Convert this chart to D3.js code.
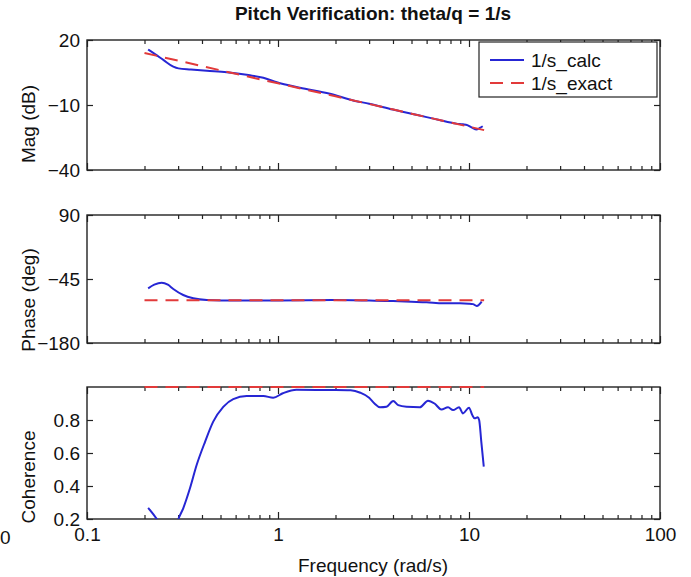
<!DOCTYPE html>
<html>
<head>
<meta charset="utf-8">
<script src="https://cdn.jsdelivr.net/npm/d3@7"></script>
<style>
  html, body { margin: 0; padding: 0; background: #fff; }
  svg { display: block; }
  text { font-family: "Liberation Sans", Arial, Helvetica, sans-serif; fill: #111; }
</style>
</head>
<body>
<svg id="chart" width="691" height="577"></svg>
<script>
// ---- Data ----
const seriesNames = ["1/s_calc", "1/s_exact"];

// Magnitude (dB)
const magCalcFreq = [0.209, 0.227, 0.251, 0.283, 0.301, 0.35, 0.424, 0.539, 0.7, 0.838, 0.985, 1.3, 1.87, 2.5, 3, 4, 5, 6, 7, 8, 8.6, 9.3, 9.8, 10.3, 11.0, 11.4, 11.8];
const magCalc     = [15.6, 13.5, 10.8, 7.7, 6.9, 6.4, 5.8, 5.1, 3.8, 2.6, 0.5, -2.0, -4.8, -8.0, -9.4, -12.1, -14.0, -15.6, -16.9, -18.1, -18.6, -18.9, -19.3, -20.3, -21.3, -20.6, -19.8];
const magExactFreq = [0.2, 0.5, 1, 2, 5, 10, 12];
const magExact     = [14.0, 6.0, 0.0, -6.0, -14.0, -20.0, -21.6];

// Phase (deg)
const phaseCalcFreq = [0.209, 0.225, 0.246, 0.265, 0.283, 0.319, 0.36, 0.424, 0.6, 1, 2, 3, 4, 5, 6, 7.33, 8.97, 10, 10.5, 10.97, 11.3, 11.65];
const phaseCalc     = [-64.6, -57, -52.8, -57, -66, -78.8, -85.7, -89.3, -90.5, -90.5, -89.5, -90.5, -91.5, -93, -94.2, -96.3, -96.3, -97, -98, -102, -99, -92.9];
const phaseExactFreq = [0.2, 12];
const phaseExact     = [-90, -90];

// Coherence
const cohCalcFreq = [0.209, 0.232, 0.25, 0.27, 0.29, 0.301, 0.319, 0.346, 0.375, 0.415, 0.458, 0.517, 0.583, 0.685, 0.838, 0.944, 1.06, 1.25, 1.87, 2.4, 2.7, 3.0, 3.2, 3.42, 3.7, 4.01, 4.26, 4.71, 5.53, 6.1, 6.6, 7.17, 7.77, 8.25, 8.87, 9.3, 10.0, 10.4, 10.7, 11.1, 11.3, 11.6, 11.95];
const cohCalc     = [0.268, 0.2, 0.14, 0.11, 0.14, 0.2, 0.265, 0.386, 0.527, 0.668, 0.79, 0.88, 0.927, 0.945, 0.945, 0.935, 0.962, 0.984, 0.982, 0.98, 0.965, 0.935, 0.9, 0.877, 0.88, 0.915, 0.89, 0.88, 0.877, 0.917, 0.9, 0.864, 0.877, 0.86, 0.877, 0.84, 0.875, 0.83, 0.81, 0.816, 0.8, 0.668, 0.517];
const cohExactFreq = [0.2, 12];
const cohExact     = [1.0, 1.0];

// Axis ticks
const xMajorTicks = [0.1, 1, 10, 100];
const xTickLabels = ["0.1", "1", "10", "100"];
const magTicks = [-40, -10, 20];
const phaseTicks = [-180, -45, 90];
const cohTicks = [0.2, 0.4, 0.6, 0.8];

// ---- Layout ----
const svg = d3.select("#chart");
const left = 87, right = 660;
const blue = "#2626d4", red = "#e23a3a";
const frameColor = "#222";

const x = d3.scaleLog().domain([0.1, 100]).range([left, right]);

const xMinorTicks = [];
[0.1, 1, 10].forEach(d => { for (let k = 2; k <= 9; k++) xMinorTicks.push(+(d * k).toPrecision(3)); });

const panels = [
  { top: 40,  bottom: 170, domain: [-40, 20],  ticks: magTicks,   fmt: d => d3.format("d")(d), label: "Mag (dB)",    labelX: 28, labelY: 124,
    calc: [magCalcFreq, magCalc], exact: [magExactFreq, magExact], xLabels: false },
  { top: 215, bottom: 343, domain: [-180, 90], ticks: phaseTicks, fmt: d => d3.format("d")(d), label: "Phase (deg)", labelX: 28, labelY: 300,
    calc: [phaseCalcFreq, phaseCalc], exact: [phaseExactFreq, phaseExact], xLabels: false },
  { top: 387, bottom: 519, domain: [0.2, 1.0], ticks: cohTicks,   fmt: d => d3.format(".1f")(d), label: "Coherence", labelX: 28, labelY: 477,
    calc: [cohCalcFreq, cohCalc], exact: [cohExactFreq, cohExact], xLabels: true }
];

const fontSize = 19;

panels.forEach((p, i) => {
  const y = d3.scaleLinear().domain(p.domain).range([p.bottom, p.top]);
  const g = svg.append("g");

  const clipId = "clip" + i;
  svg.append("defs").append("clipPath").attr("id", clipId)
    .append("rect").attr("x", left).attr("y", p.top).attr("width", right - left).attr("height", p.bottom - p.top);

  // frame
  g.append("rect")
    .attr("x", left).attr("y", p.top)
    .attr("width", right - left).attr("height", p.bottom - p.top)
    .attr("fill", "none").attr("stroke", frameColor).attr("stroke-width", 1.4);

  const styleAxis = sel => {
    sel.select(".domain").remove();
    sel.selectAll(".tick line").attr("stroke", frameColor).attr("stroke-width", 1.2);
    sel.selectAll(".tick text").attr("font-size", fontSize).attr("fill", "#111")
      .attr("font-family", "Liberation Sans, Arial, sans-serif");
  };

  // bottom ticks (major and minor, pointing inward)
  const bMajor = d3.axisBottom(x).tickValues(xMajorTicks).tickSizeInner(-7).tickSizeOuter(0).tickPadding(9)
    .tickFormat((d, k) => p.xLabels ? xTickLabels[k] : "");
  g.append("g").attr("transform", `translate(0,${p.bottom})`).call(bMajor).call(styleAxis);
  const bMinor = d3.axisBottom(x).tickValues(xMinorTicks).tickSizeInner(-4).tickSizeOuter(0).tickFormat("");
  g.append("g").attr("transform", `translate(0,${p.bottom})`).call(bMinor).call(styleAxis);

  // top ticks
  const tMajor = d3.axisTop(x).tickValues(xMajorTicks).tickSizeInner(-7).tickSizeOuter(0).tickFormat("");
  g.append("g").attr("transform", `translate(0,${p.top})`).call(tMajor).call(styleAxis);
  const tMinor = d3.axisTop(x).tickValues(xMinorTicks).tickSizeInner(-4).tickSizeOuter(0).tickFormat("");
  g.append("g").attr("transform", `translate(0,${p.top})`).call(tMinor).call(styleAxis);

  // left and right ticks
  const lAxis = d3.axisLeft(y).tickValues(p.ticks).tickSizeInner(-6).tickSizeOuter(0).tickPadding(7)
    .tickFormat(p.fmt);
  g.append("g").attr("transform", `translate(${left},0)`).call(lAxis).call(styleAxis);
  const rAxis = d3.axisRight(y).tickValues(p.ticks).tickSizeInner(-6).tickSizeOuter(0).tickFormat("");
  g.append("g").attr("transform", `translate(${right},0)`).call(rAxis).call(styleAxis);

  // y-axis title
  svg.append("text")
    .attr("transform", `translate(${p.labelX},${p.labelY}) rotate(-90)`)
    .attr("text-anchor", "middle").attr("dominant-baseline", "central")
    .attr("font-size", fontSize)
    .text(p.label);

  const line = d3.line().x(d => x(d[0])).y(d => y(d[1])).curve(d3.curveMonotoneX);

  const calcPts = p.calc[0].map((f, k) => [f, p.calc[1][k]]);
  const exactPts = p.exact[0].map((f, k) => [f, p.exact[1][k]]);

  const plot = svg.append("g").attr("clip-path", i === 2 ? `url(#${clipId})` : null);
  plot.append("path").datum(calcPts)
    .attr("d", line).attr("fill", "none").attr("stroke", blue).attr("stroke-width", 2);

  // dashed exact line drawn on top (not clipped so it can sit on the frame edge)
  svg.append("path").datum(exactPts)
    .attr("d", d3.line().x(d => x(d[0])).y(d => y(d[1])))
    .attr("fill", "none").attr("stroke", red).attr("stroke-width", 2)
    .attr("stroke-dasharray", "13,8");
});

// x-axis title
svg.append("text")
  .attr("x", (left + right) / 2 - 0.5).attr("y", 565)
  .attr("text-anchor", "middle").attr("dominant-baseline", "central")
  .attr("font-size", fontSize)
  .text("Frequency (rad/s)");

// leftover tick label at the far left of the bottom row
svg.append("text")
  .attr("x", 0).attr("y", 537)
  .attr("text-anchor", "start").attr("dominant-baseline", "central")
  .attr("font-size", fontSize)
  .text("0");

// title
svg.append("text")
  .attr("x", 373).attr("y", 13)
  .attr("text-anchor", "middle").attr("dominant-baseline", "central")
  .attr("font-size", 19).attr("font-weight", "bold")
  .text("Pitch Verification: theta/q = 1/s");

// legend
const lg = svg.append("g");
lg.append("rect").attr("x", 479).attr("y", 42).attr("width", 178).attr("height", 55)
  .attr("fill", "#fff").attr("stroke", frameColor).attr("stroke-width", 1.2);
const legendRows = [
  { name: seriesNames[0], color: blue, dash: null, y: 60 },
  { name: seriesNames[1], color: red, dash: "13,8", y: 83 }
];
legendRows.forEach(r => {
  lg.append("line").attr("x1", 490).attr("x2", 524).attr("y1", r.y).attr("y2", r.y)
    .attr("stroke", r.color).attr("stroke-width", 2).attr("stroke-dasharray", r.dash);
  lg.append("text").attr("x", 531).attr("y", r.y).attr("dominant-baseline", "central")
    .attr("font-size", fontSize).text(r.name);
});
</script>
</body>
</html>
